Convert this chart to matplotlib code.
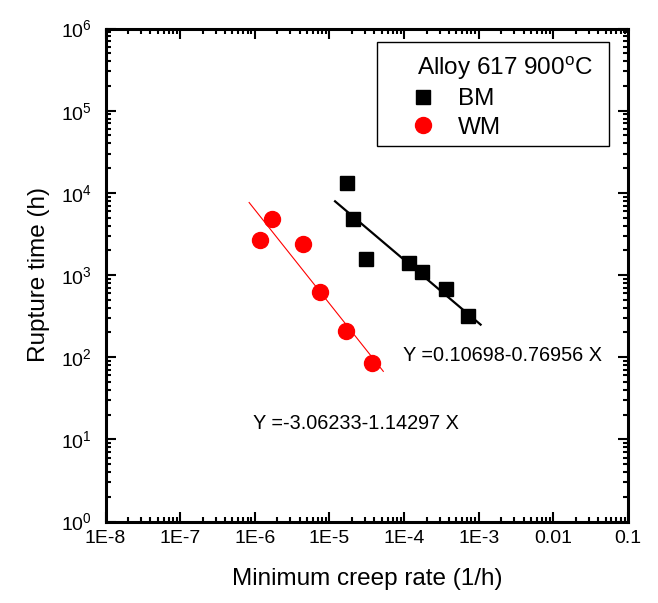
import numpy as np
import matplotlib
matplotlib.use("Agg")
import matplotlib.pyplot as plt
from matplotlib.patches import Rectangle
from matplotlib.ticker import FixedLocator, LogLocator, NullFormatter, LogFormatterSciNotation

plt.rcParams['font.family'] = ['Liberation Sans', 'DejaVu Sans']
plt.rcParams['mathtext.fontset'] = 'custom'
plt.rcParams['mathtext.rm'] = 'Liberation Sans'

# base metal (BM)
bm_rate = [1.73e-5, 2.09e-5, 3.06e-5, 1.17e-4, 1.72e-4, 3.68e-4, 7.26e-4]
bm_time = [13100, 4810, 1550, 1400, 1080, 670, 315]
# weld metal (WM)
wm_rate = [1.17e-6, 1.69e-6, 4.47e-6, 7.55e-6, 1.67e-5, 3.75e-5]
wm_time = [2640, 4760, 2380, 627, 208, 84]

# log10(t) = a + b*log10(rate)
bm_fit = (0.10698, -0.76956)
wm_fit = (-3.06233, -1.14297)
bm_fit_range = [1.19e-5, 1.06e-3]
wm_fit_range = [8.4e-7, 5.27e-5]

xticks = [1e-8, 1e-7, 1e-6, 1e-5, 1e-4, 1e-3, 1e-2, 1e-1]
xticklabels = ['1E-8', '1E-7', '1E-6', '1E-5', '1E-4', '1E-3', '0.01', '0.1']
yticks = [1, 1e1, 1e2, 1e3, 1e4, 1e5, 1e6]


def fit_line(fit, rng):
    x = np.array(rng)
    return x, 10 ** (fit[0] + fit[1] * np.log10(x))


fig = plt.figure(figsize=(6.58, 6.03), dpi=100)
ax = fig.add_axes([105.5 / 658, 1 - 521.5 / 603, 522.5 / 658, 493 / 603])

x, y = fit_line(bm_fit, bm_fit_range)
ax.plot(x, y, color='black', lw=1.6, zorder=2)
x, y = fit_line(wm_fit, wm_fit_range)
ax.plot(x, y, color='red', lw=0.8, zorder=2)

ax.plot(bm_rate, bm_time, 's', color='black', ms=10.5, ls='none', zorder=3)
ax.plot(wm_rate, wm_time, 'o', color='red', ms=11.5, ls='none', zorder=3)

ax.set_xscale('log')
ax.set_yscale('log')
ax.set_xlim(1e-8, 1e-1)
ax.set_ylim(1, 1e6)

ax.xaxis.set_major_locator(FixedLocator(xticks))
ax.set_xticklabels(xticklabels)
ax.xaxis.set_minor_locator(LogLocator(base=10, subs=np.arange(2, 10), numticks=20))
ax.xaxis.set_minor_formatter(NullFormatter())
ax.yaxis.set_major_locator(FixedLocator(yticks))
ax.yaxis.set_major_formatter(LogFormatterSciNotation())
ax.yaxis.set_minor_locator(LogLocator(base=10, subs=np.arange(2, 10), numticks=20))
ax.yaxis.set_minor_formatter(NullFormatter())

ax.tick_params(which='both', direction='in', top=True, right=True, width=1.5)
ax.tick_params(which='major', length=7, labelsize=14, pad=6)
ax.tick_params(axis='y', which='major', pad=10)
ax.tick_params(which='minor', length=3.5)
for s in ax.spines.values():
    s.set_linewidth(2.2)

ax.set_xlabel('Minimum creep rate (1/h)', fontsize=17.5, labelpad=15)
ax.set_ylabel('Rupture time (h)', fontsize=17.5, labelpad=8)

ax.text(9.7e-5, 106, 'Y =0.10698-0.76956 X', fontsize=14.3, va='center', ha='left')
ax.text(9.5e-7, 15.4, 'Y =-3.06233-1.14297 X', fontsize=14.3, va='center', ha='left')

# legend box drawn by hand (axes fractions)
ax.add_patch(Rectangle((0.5196, 0.7617), 0.444, 0.2109, transform=ax.transAxes,
                       facecolor='white', edgecolor='black', lw=1.0, zorder=4))
ax.text(0.5956, 0.9057, 'Alloy 617 900$^{\\mathrm{o}}$C', transform=ax.transAxes,
        fontsize=17.5, va='baseline', ha='left', zorder=5)
ax.plot([0.6077], [0.8611], 's', color='black', ms=10.5, transform=ax.transAxes,
        zorder=5, clip_on=False)
ax.text(0.6746, 0.8448, 'BM', transform=ax.transAxes, fontsize=17.5,
        va='baseline', ha='left', zorder=5)
ax.plot([0.6077], [0.8043], 'o', color='red', ms=11.5, transform=ax.transAxes,
        zorder=5, clip_on=False)
ax.text(0.6746, 0.786, 'WM', transform=ax.transAxes, fontsize=17.5,
        va='baseline', ha='left', zorder=5)

fig.savefig('out.png', dpi=100)
